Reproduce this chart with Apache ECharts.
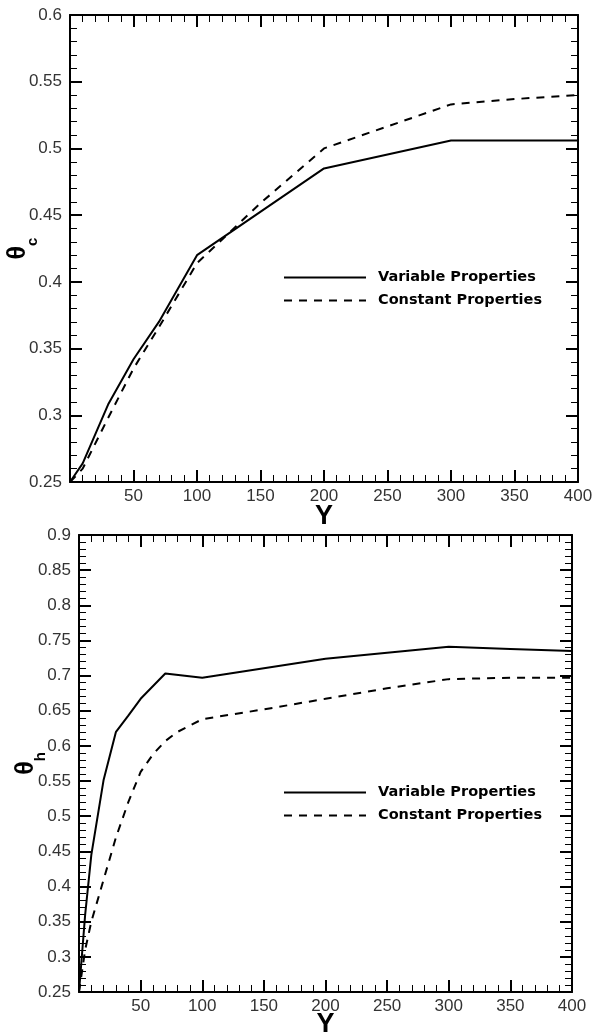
<!DOCTYPE html>
<html>
<head>
<meta charset="utf-8">
<script src="https://cdn.jsdelivr.net/npm/echarts@6/dist/echarts.min.js"></script>
<style>
  html, body { margin: 0; padding: 0; background: #fff; }
  #chart { width: 594px; height: 1035px; }
</style>
</head>
<body>
<div id="chart"></div>
<script>
const seriesNames = ['Variable Properties', 'Constant Properties'];

// upper panel (theta_c)
const topVarY = [0, 10, 30, 50, 70, 100, 200, 300, 400];
const topVarTheta = [0.25, 0.264, 0.308, 0.342, 0.37, 0.42, 0.485, 0.506, 0.506];
const topConstY = [0, 10, 30, 50, 70, 100, 150, 200, 300, 350, 400];
const topConstTheta = [0.25, 0.26, 0.298, 0.335, 0.366, 0.414, 0.459, 0.5, 0.533, 0.537, 0.54];

// lower panel (theta_h)
const botVarY = [0, 5, 10, 20, 30, 40, 50, 70, 100, 200, 300, 350, 400];
const botVarTheta = [0.25, 0.36, 0.445, 0.552, 0.62, 0.643, 0.667, 0.703, 0.697, 0.724, 0.741, 0.738, 0.735];
const botConstY = [0, 5, 10, 20, 30, 40, 50, 60, 70, 80, 100, 150, 200, 250, 300, 350, 400];
const botConstTheta = [0.25, 0.31, 0.35, 0.41, 0.47, 0.52, 0.563, 0.588, 0.607, 0.62, 0.638, 0.652, 0.667, 0.682, 0.695, 0.697, 0.697];

const xRange = [0, 400, 50];
const topRange = [0.25, 0.6, 0.05];
const botRange = [0.25, 0.9, 0.05];

const zip = (xs, ys) => xs.map((x, i) => [x, ys[i]]);

const labelFont = { fontFamily: 'Liberation Sans', fontSize: 17, color: '#333' };
const axisLine = { show: true, onZero: false, lineStyle: { color: '#000', width: 2 } };
const axisTick = { show: true, inside: true, length: 12, lineStyle: { color: '#000', width: 2 } };
const minorTick = { show: true, splitNumber: 5, length: 7, lineStyle: { color: '#000', width: 1 } };

function xAxes(grid, gap) {
  const base = {
    type: 'value', gridIndex: grid, min: xRange[0], max: xRange[1], interval: xRange[2],
    axisLine, axisTick, minorTick, splitLine: { show: false }
  };
  return [
    Object.assign({}, base, {
      position: 'bottom',
      axisLabel: Object.assign({ margin: 6, showMinLabel: false }, labelFont),
      name: 'Y', nameLocation: 'middle', nameGap: gap, nameMoveOverlap: false,
      nameTextStyle: { fontFamily: 'Liberation Sans', fontWeight: 'bold', fontSize: 27, color: '#000' }
    }),
    Object.assign({}, base, { position: 'top', axisLabel: { show: false } })
  ];
}

function yAxes(grid, range, sub, gap) {
  const base = {
    type: 'value', gridIndex: grid, min: range[0], max: range[1], interval: range[2],
    axisLine, axisTick, minorTick, splitLine: { show: false }
  };
  return [
    Object.assign({}, base, {
      position: 'left',
      axisLabel: Object.assign({ margin: 8 }, labelFont),
      name: '{t|θ}{s|' + sub + '}', nameLocation: 'middle', nameRotate: 90, nameGap: gap,
      nameMoveOverlap: false,
      nameTextStyle: {
        color: '#000',
        rich: {
          t: { fontFamily: 'Liberation Sans', fontWeight: 'bold', fontSize: 25, color: '#000' },
          s: { fontFamily: 'Liberation Sans', fontWeight: 'bold', fontSize: 15, color: '#000', padding: [28, 0, 0, 0] }
        }
      }
    }),
    Object.assign({}, base, { position: 'right', axisLabel: { show: false } })
  ];
}

function curve(name, data, axis, dashed) {
  return {
    name, type: 'line', data, xAxisIndex: axis, yAxisIndex: axis,
    symbol: 'none', animation: false,
    lineStyle: { color: '#000', width: 2, type: dashed ? [8, 7] : 'solid' },
    itemStyle: { color: '#000' }
  };
}

function legendAt(top) {
  return {
    orient: 'vertical', left: 283, top, padding: 0,
    itemWidth: 82, itemHeight: 14, itemGap: 8,
    data: seriesNames,
    itemStyle: { opacity: 0 },
    textStyle: {
      fontFamily: 'DejaVu Sans', fontWeight: 'bold', fontSize: 14.5, color: '#000',
      lineHeight: 14, padding: [0, 0, 0, 7]
    }
  };
}

const chart = echarts.init(document.getElementById('chart'));
chart.setOption({
  backgroundColor: '#fff',
  animation: false,
  grid: [
    { left: 70, top: 15, width: 508, height: 467, containLabel: false, outerBoundsMode: 'none' },
    { left: 79, top: 535, width: 493, height: 457, containLabel: false, outerBoundsMode: 'none' }
  ],
  xAxis: [...xAxes(0, 21), ...xAxes(1, 19)],
  yAxis: [...yAxes(0, topRange, 'c', 30), ...yAxes(1, botRange, 'h', 31)],
  legend: [legendAt(270), legendAt(785)],
  series: [
    curve(seriesNames[0], zip(topVarY, topVarTheta), 0, false),
    curve(seriesNames[1], zip(topConstY, topConstTheta), 0, true),
    curve(seriesNames[0], zip(botVarY, botVarTheta), 2, false),
    curve(seriesNames[1], zip(botConstY, botConstTheta), 2, true)
  ]
});
</script>
</body>
</html>
